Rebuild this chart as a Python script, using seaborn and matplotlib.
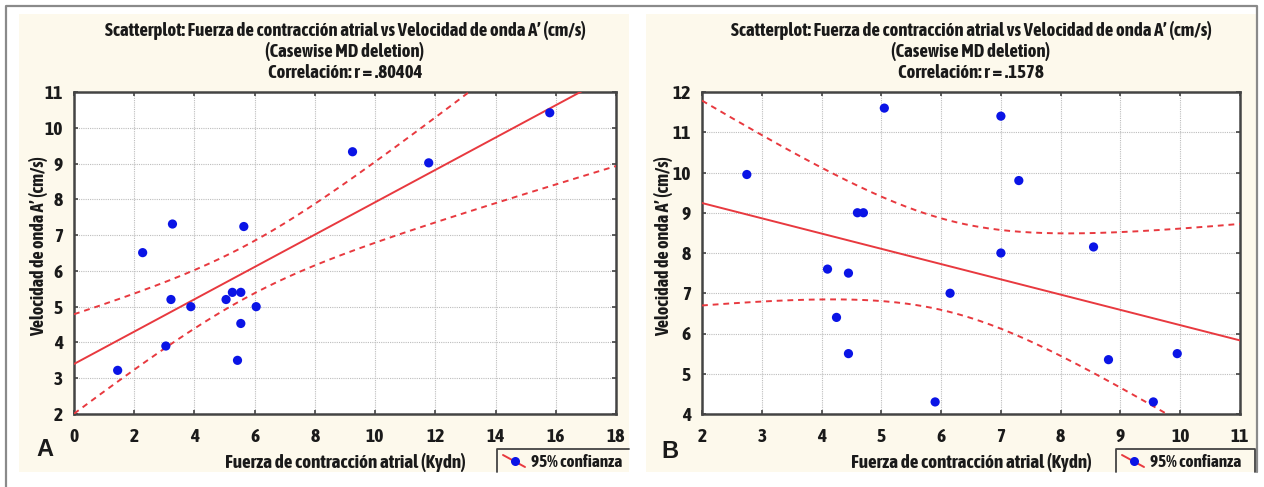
import numpy as np
import pandas as pd
import seaborn as sns
import matplotlib
matplotlib.use("Agg")
import matplotlib.pyplot as plt
from matplotlib.patches import Rectangle
from matplotlib.lines import Line2D
from matplotlib import font_manager
from matplotlib.font_manager import FontProperties

# ---------------- data ----------------
a_fuerza = [1.45, 2.28, 3.05, 3.22, 3.27, 3.88, 5.05, 5.26, 5.43, 5.54, 5.54, 5.64, 6.05, 9.25, 11.78, 15.8]
a_velocidad = [3.22, 6.51, 3.9, 5.2, 7.31, 5.0, 5.2, 5.4, 3.5, 5.4, 4.53, 7.24, 5.0, 9.33, 9.02, 10.42]

b_fuerza = [2.75, 4.1, 4.25, 4.45, 4.45, 4.6, 4.7, 5.05, 5.9, 6.15, 7.0, 7.0, 7.3, 8.55, 8.8, 9.55, 9.95]
b_velocidad = [9.95, 7.6, 6.4, 5.5, 7.5, 9.0, 9.0, 11.6, 4.3, 7.0, 11.4, 8.0, 9.8, 8.15, 5.35, 4.3, 5.5]

a_title = ["Scatterplot: Fuerza de contracción atrial vs Velocidad de onda A’ (cm/s)",
           "(Casewise MD deletion)", "Correlación: r = .80404"]
b_title = ["Scatterplot: Fuerza de contracción atrial vs Velocidad de onda A’ (cm/s)",
           "(Casewise MD deletion)", "Correlación: r = .1578"]
xlabel = "Fuerza de contracción atrial (Kydn)"
ylabel = "Velocidad de onda A’ (cm/s)"
legend_label = "95% confianza"

a_xticks = [0, 2, 4, 6, 8, 10, 12, 14, 16, 18]
a_yticks = [2, 3, 4, 5, 6, 7, 8, 9, 10, 11]
b_xticks = [2, 3, 4, 5, 6, 7, 8, 9, 10, 11]
b_yticks = [4, 5, 6, 7, 8, 9, 10, 11, 12]

# Student t 0.975 quantiles for n-2 degrees of freedom
T975 = {14: 2.1448, 15: 2.1314}

# ---------------- style ----------------
sns.set_theme(style="white")


def wnum(w):
    if isinstance(w, (int, float)):
        return int(w)
    return int(font_manager.weight_dict.get(str(w), 400))


best = None
for f in font_manager.fontManager.ttflist:
    nm = f.name
    st = str(f.stretch)
    narrow_name = ("Narrow" in nm) or ("Condensed" in nm)
    narrow_st = st in ("condensed", "semi-condensed", "extra-condensed")
    if not (narrow_name or narrow_st):
        continue
    w = wnum(f.weight)
    if w < 600:
        continue
    rank = (0 if narrow_name else 1, abs(w - 700), nm)
    if best is None or rank < best[0]:
        best = (rank, nm, st, w, f.fname)

TXT = dict(color="#1A1A1A")
TICK_FILE = None
if best is not None:
    _, fam, st, w, fpath = best
    FAMILY = [fam, "DejaVu Sans"]
    TXT["fontweight"] = w
    TICK_FILE = fpath
    if not (("Narrow" in fam) or ("Condensed" in fam)):
        TXT["fontstretch"] = st
    SCALE = 1.0
else:
    FAMILY = ["Liberation Sans", "DejaVu Sans"]
    TXT["fontweight"] = "bold"
    SCALE = 0.86
plt.rcParams["font.family"] = FAMILY
TXT["family"] = FAMILY

W, H = 1264, 487
fig = plt.figure(figsize=(W / 100, H / 100), dpi=100)
fig.patch.set_facecolor("white")

CREAM = "#FDF9EC"
RED = "#E8393F"
BLUE = "#0A14E6"
FRAME = "#444444"


def fig_rect(x0, y0, x1, y1, **kw):
    r = Rectangle((x0 / W, 1 - y1 / H), (x1 - x0) / W, (y1 - y0) / H,
                  transform=fig.transFigure, **kw)
    fig.add_artist(r)
    return r


def fig_line(xs, ys, **kw):
    fig.add_artist(Line2D([x / W for x in xs], [1 - y / H for y in ys],
                          transform=fig.transFigure, **kw))


# outer frame
fig_line([6, 6, 1257, 1257], [487, 6, 6, 472], color="#8A8A8A", lw=1.6)
# cream panels
fig_rect(19, 14, 629, 472, facecolor=CREAM, edgecolor="none", zorder=0)
fig_rect(646, 14, 1256, 472, facecolor=CREAM, edgecolor="none", zorder=0)


def add_axes(x0, y0, x1, y1):
    return fig.add_axes([x0 / W, 1 - y1 / H, (x1 - x0) / W, (y1 - y0) / H])


def tick_fp(size):
    if TICK_FILE is not None:
        return FontProperties(fname=TICK_FILE, size=size)
    return FontProperties(family=FAMILY, weight="bold", size=size)


def panel(ax, xs, ys, xlim, ylim, xticks, yticks, titles, letter, letter_xy,
          legend_box, title_cx, legend_right_edge):
    df = pd.DataFrame({"x": xs, "y": ys})
    n = len(df)
    x = df["x"].to_numpy()
    y = df["y"].to_numpy()
    xbar = x.mean()
    sxx = ((x - xbar) ** 2).sum()
    slope = ((x - xbar) * (y - y.mean())).sum() / sxx
    inter = y.mean() - slope * xbar
    resid = y - (inter + slope * x)
    s = np.sqrt((resid ** 2).sum() / (n - 2))
    gx = np.linspace(xlim[0], xlim[1], 200)
    fit = inter + slope * gx
    half = T975[n - 2] * s * np.sqrt(1 / n + (gx - xbar) ** 2 / sxx)
    lines = pd.DataFrame({"x": gx, "fit": fit, "lo": fit - half, "hi": fit + half})

    ax.set_facecolor("white")
    sns.lineplot(data=lines, x="x", y="fit", ax=ax, color=RED, lw=1.4, zorder=3)
    for col in ("lo", "hi"):
        sns.lineplot(data=lines, x="x", y=col, ax=ax, color=RED, lw=1.4,
                     linestyle=(0, (3, 2.5)), zorder=3)
    sns.scatterplot(data=df, x="x", y="y", ax=ax, color=BLUE, s=44,
                    edgecolor="none", zorder=4, clip_on=False)

    ax.set_xlim(*xlim)
    ax.set_ylim(*ylim)
    ax.set_xticks(xticks)
    ax.set_yticks(yticks)
    ax.set_xticklabels([str(t) for t in xticks])
    ax.set_yticklabels([str(t) for t in yticks])
    ax.grid(True, color="#BDBDBD", linestyle=(0, (1, 1)), lw=0.8)
    ax.tick_params(axis="both", which="both", direction="in", length=3, width=1.2,
                   color=FRAME, top=True, right=True, bottom=True, left=True,
                   labelcolor="#1A1A1A")
    ax.tick_params(axis="x", pad=10)
    ax.tick_params(axis="y", pad=8)
    fp = tick_fp(14 * SCALE)
    for lab in ax.get_xticklabels() + ax.get_yticklabels():
        lab.set_fontproperties(fp)
    for sp in ax.spines.values():
        sp.set_color(FRAME)
        sp.set_linewidth(1.8)
        sp.set_visible(True)
    ax.set_xlabel("")
    ax.set_ylabel("")

    # titles
    for i, t in enumerate(titles):
        fig.text(title_cx / W, 1 - (30 + 21.5 * i) / H, t, ha="center", va="center",
                 fontsize=13.5 * SCALE, **TXT)
    # x / y labels
    fig.text(title_cx / W, 1 - 462 / H, xlabel, ha="center", va="center",
             fontsize=13.8 * SCALE, **TXT)
    fig.text(letter_xy[2] / W, 1 - 246 / H, ylabel, ha="center", va="center",
             rotation=90, fontsize=13 * SCALE, **TXT)
    fig.text(letter_xy[0] / W, 1 - letter_xy[1] / H, letter, ha="center", va="center",
             fontsize=17, fontweight="bold", color="#1A1A1A",
             family=["Liberation Sans", "DejaVu Sans"])

    # legend box (open at bottom)
    lx0, ly0, lx1, ly1 = legend_box
    if legend_right_edge:
        fig_line([lx0, lx0, lx1, lx1], [ly1, ly0, ly0, ly1], color=FRAME, lw=1.3)
    else:
        fig_line([lx0, lx0, lx1], [ly1, ly0, ly0], color=FRAME, lw=1.3)
    fig_line([lx0 + 6, lx0 + 28], [ly0 + 6, ly0 + 18], color=RED, lw=1.4)
    fig_line([lx0 + 18], [ly0 + 12], color=BLUE, marker="o",
             markersize=6.5, markeredgewidth=0)
    fig.text((lx0 + 34) / W, 1 - (ly0 + 13) / H, legend_label, ha="left", va="center",
             fontsize=12.4 * SCALE, **TXT)


ax_a = add_axes(74, 92, 616, 414)
panel(ax_a, a_fuerza, a_velocidad, (0, 18), (2, 11), a_xticks, a_yticks, a_title,
      "A", (45, 450, 39), (497, 449, 629, 472), 345, False)

ax_b = add_axes(702, 92, 1240, 414)
panel(ax_b, b_fuerza, b_velocidad, (2, 11), (4, 12), b_xticks, b_yticks, b_title,
      "B", (670, 452, 664), (1116, 449, 1255, 472), 971, True)

fig.savefig("out.png", dpi=100, facecolor="white")
